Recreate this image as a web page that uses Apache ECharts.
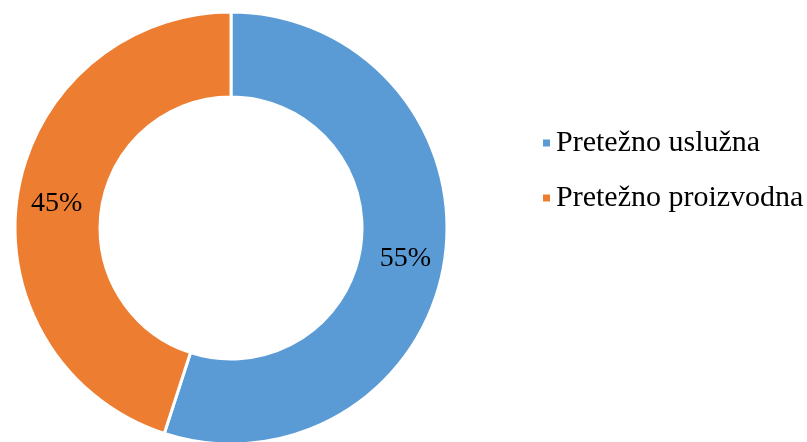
<!DOCTYPE html>
<html>
<head>
<meta charset="utf-8">
<script src="https://cdn.jsdelivr.net/npm/echarts@6/dist/echarts.min.js"></script>
<style>
  html, body { margin: 0; padding: 0; background: #fff; }
  #chart { width: 807px; height: 442px; }
</style>
</head>
<body>
<div id="chart"></div>
<script>
// categories and shares (%)
const categories = ["Pretežno uslužna", "Pretežno proizvodna"]
const shares = [55, 45]
const colors = ["#5B9BD5", "#ED7D31"]

const chart = echarts.init(document.getElementById("chart"), null, { renderer: "canvas" })

const data = categories.map((name, i) => ({
  name: name,
  value: shares[i],
  itemStyle: { color: colors[i] }
}))

const options = {
  animation: false,
  legend: {
    orient: "vertical",
    left: 536,
    top: 123,
    icon: "rect",
    itemWidth: 9,
    itemHeight: 9,
    itemGap: 25,
    selectedMode: false,
    textStyle: {
      fontFamily: "Liberation Serif",
      fontSize: 30,
      lineHeight: 30,
      color: "#000"
    },
    data: categories
  },
  series: [
    {
      type: "pie",
      center: [231, 228],
      radius: [131, 216],
      startAngle: 90,
      clockwise: true,
      silent: true,
      itemStyle: {
        borderColor: "#fff",
        borderWidth: 3
      },
      label: {
        show: true,
        position: "inside",
        formatter: "{c}%",
        fontFamily: "Liberation Serif",
        fontSize: 28,
        color: "#000",
        offset: [0, 3]
      },
      labelLine: { show: false },
      emphasis: { disabled: true },
      data: data
    }
  ]
}
chart.setOption(options)
</script>
</body>
</html>
